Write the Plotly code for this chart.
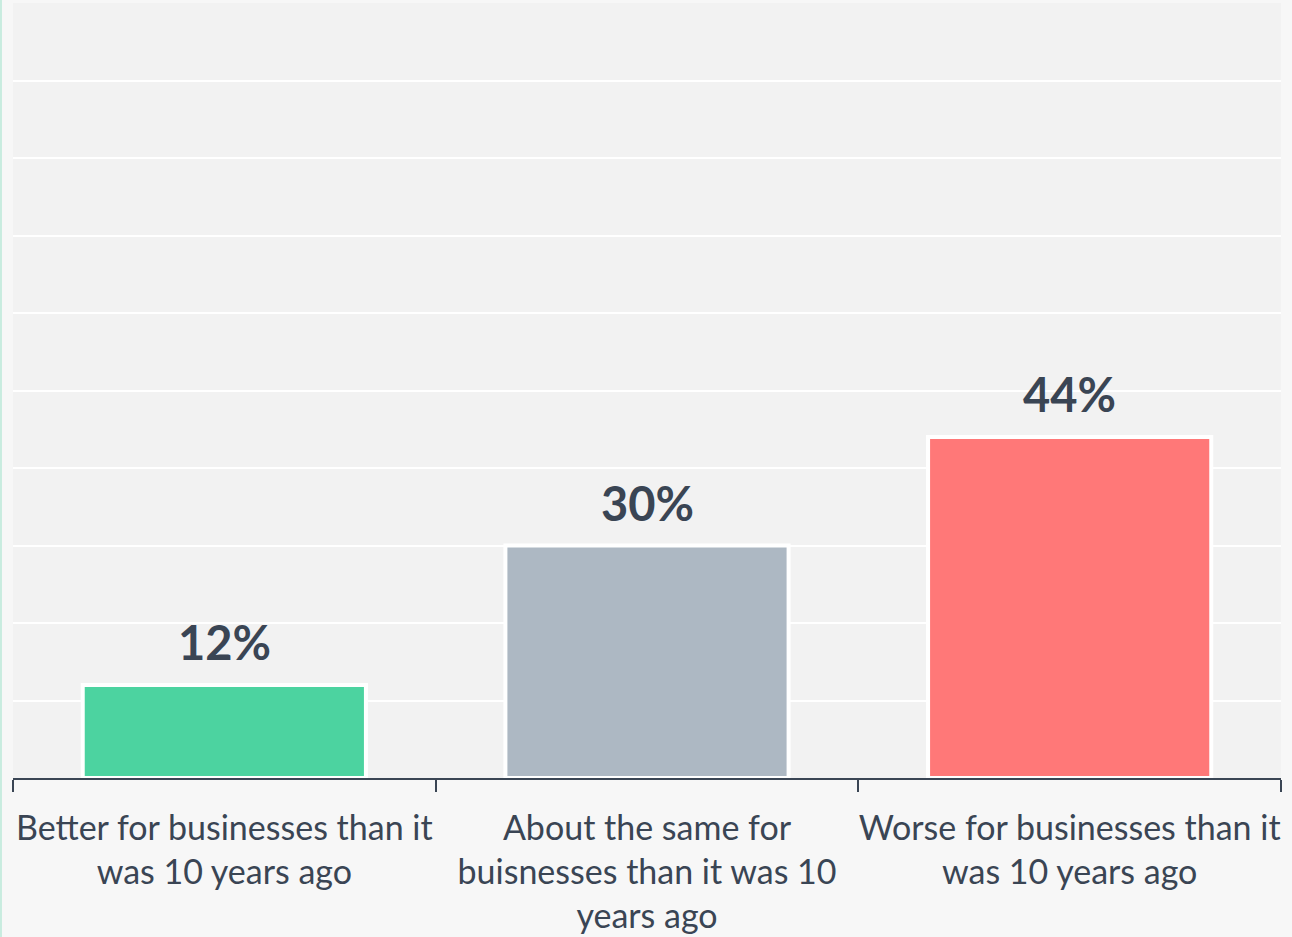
import plotly.graph_objects as go

categories = [
    "Better for businesses than it<br>was 10 years ago",
    "About the same for<br>buisnesses than it was 10<br>years ago",
    "Worse for businesses than it<br>was 10 years ago",
]
values = [12, 30, 44]
labels = ["12%", "30%", "44%"]
colors = ["#4cd3a0", "#adb8c3", "#ff7878"]

text_color = "#3a4554"

fig = go.Figure()
fig.add_trace(go.Bar(
    x=categories,
    y=values,
    marker=dict(color=colors, line=dict(color="white", width=4)),
    width=0.67,
    hoverinfo="skip",
))

for c, v, t in zip(categories, values, labels):
    fig.add_annotation(
        x=c, y=v, text="<b>" + t + "</b>", showarrow=False,
        yanchor="bottom", yshift=13,
        font=dict(family="Lato", size=47, color=text_color),
    )

fig.add_shape(type="line", xref="paper", yref="paper",
              x0=-0.0095, x1=-0.0095, y0=-0.3, y1=1.01,
              line=dict(color="#c8ecdf", width=2))

fig.update_layout(
    width=1292, height=937,
    margin=dict(l=13, r=11, t=3, b=159, autoexpand=False),
    paper_bgcolor="#f7f7f7",
    plot_bgcolor="#f2f2f2",
    showlegend=False,
    bargap=0.33,
    xaxis=dict(
        type="category",
        showline=True, linecolor=text_color, linewidth=2,
        ticks="outside", tickson="boundaries", ticklen=12, tickwidth=2, tickcolor=text_color,
        tickfont=dict(family="Lato", size=34, color=text_color),
        tickangle=0, automargin=False,
        ticklabelstandoff=19,
        showgrid=False,
    ),
    yaxis=dict(
        range=[0, 100], dtick=10, showticklabels=False,
        showgrid=True, gridcolor="white", gridwidth=2,
        zeroline=False, fixedrange=True, automargin=False,
    ),
)

fig.write_html("out.html", config={"displayModeBar": False},
               post_script="document.body.style.margin='0';document.body.style.padding='0';")
